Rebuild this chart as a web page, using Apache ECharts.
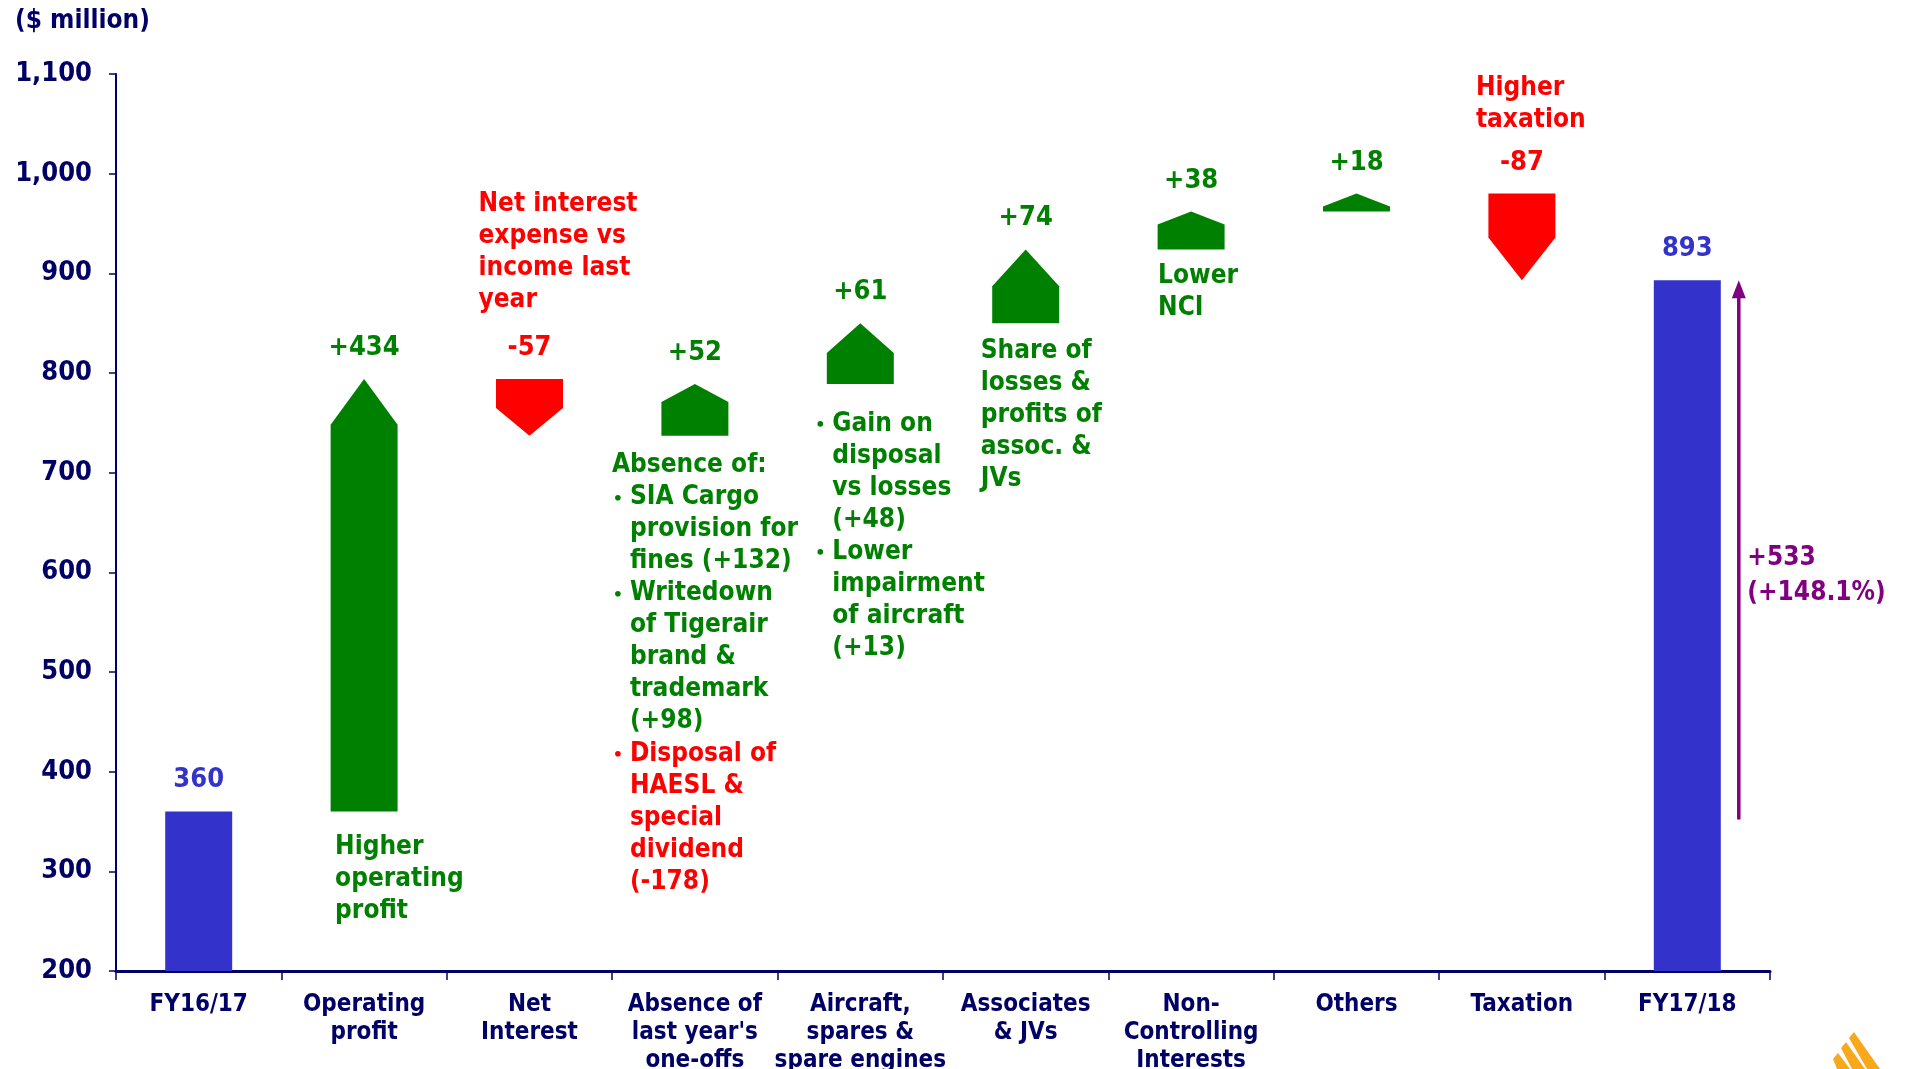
<!DOCTYPE html>
<html>
<head>
<meta charset="utf-8">
<script src="https://cdn.jsdelivr.net/npm/echarts@6/dist/echarts.min.js"></script>
<style>
  html, body { margin: 0; padding: 0; background: #fff; }
  #chart { width: 1911px; height: 1069px; }
</style>
</head>
<body>
<div id="chart"></div>
<script>
// categories along the x axis
const categories = [
  'FY16/17', 'Operating\nprofit', 'Net\nInterest', "Absence of\nlast year's\none-offs",
  'Aircraft,\nspares &\nspare engines', 'Associates\n& JVs', 'Non-\nControlling\nInterests',
  'Others', 'Taxation', 'FY17/18'
]
// opening / closing net profit ($ million)
const startValue = 360
const endValue = 893
// bridge steps, categories 1..8
const changes = [434, -57, 52, 61, 74, 38, 18, -87]
const valueLabels = ['360', '+434', '-57', '+52', '+61', '+74', '+38', '+18', '-87', '893']
const yTicks = [200, 300, 400, 500, 600, 700, 800, 900, 1000, 1100]

// annotation texts
const noteOperating = ['Higher', 'operating', 'profit']
const noteInterest = ['Net interest', 'expense vs', 'income last', 'year']
const noteOneOffs = ['Absence of:', '• SIA Cargo', '  provision for', '  fines (+132)', '• Writedown',
  '  of Tigerair', '  brand &', '  trademark', '  (+98)']
const noteHaesl = ['• Disposal of', '  HAESL &', '  special', '  dividend', '  (-178)']
const noteAircraft = ['• Gain on', '  disposal', '  vs losses', '  (+48)', '• Lower', '  impairment',
  '  of aircraft', '  (+13)']
const noteAssoc = ['Share of', 'losses &', 'profits of', 'assoc. &', 'JVs']
const noteNci = ['Lower', 'NCI']
const noteTax = ['Higher', 'taxation']
const noteGrowth = ['+533', '(+148.1%)']

// styles
const FONT = "'DejaVu Sans Condensed', 'DejaVu Sans', sans-serif"
const NAVY = '#000066'
const BLUE = '#3333CC'
const GREEN = '#008000'
const RED = '#FF0000'
const PURPLE = '#800080'
// arrow head length (in axis units) per bridge step, as drawn
const arrowHead = [46, 28, 18, 30, 37, 13, 13, 43]

// build waterfall steps from the data
let running = startValue
const steps = changes.map((d, i) => {
  const from = running
  running += d
  return [i + 1, from, running]
})
const totals = categories.map((c, i) => (i === 0 ? startValue : i === categories.length - 1 ? endValue : '-'))

// annotation layout: category anchor, pixel offset of left edge, top (axis units)
const notes = [
  { lines: noteOperating, cat: 1, dx: -29, top: 340, color: GREEN },
  { lines: noteInterest, cat: 2, dx: -51, top: 985, color: RED },
  { lines: noteOneOffs, cat: 3, dx: -83, top: 723, color: GREEN },
  { lines: noteHaesl, cat: 3, dx: -83, top: 434, color: RED },
  { lines: noteAircraft, cat: 4, dx: -46, top: 765, color: GREEN },
  { lines: noteAssoc, cat: 5, dx: -45, top: 838, color: GREEN },
  { lines: noteNci, cat: 6, dx: -33, top: 913, color: GREEN },
  { lines: noteTax, cat: 8, dx: -46, top: 1102, color: RED },
  { lines: noteGrowth, cat: 9, dx: 60, top: 632, color: PURPLE, lh: 35 }
]

const chart = echarts.init(document.getElementById('chart'))

const txt = (x, y, s, color, align, size) => ({
  type: 'text',
  style: {
    x, y, text: s, fill: color, font: 'bold ' + (size || 26) + 'px ' + FONT,
    align: align || 'left', verticalAlign: 'middle'
  }
})

const option = {
  animation: false,
  backgroundColor: '#ffffff',
  grid: { left: 116, right: 141, top: 74, bottom: 98, containLabel: false, outerBoundsMode: 'none' },
  graphic: [
    {
      type: 'text', left: 15, top: 8,
      style: { text: '($ million)', fill: NAVY, font: 'bold 26px ' + FONT }
    },
    // airline logo fragment, bottom right
    {
      type: 'group', left: 1833, top: 1032,
      children: [
        { type: 'polygon', shape: { points: [[17, 6], [22, 0], [48, 37], [35, 37]] }, style: { fill: '#F9A81C' } },
        { type: 'polygon', shape: { points: [[9, 16], [14, 10], [33, 37], [20, 37]] }, style: { fill: '#F9A81C' } },
        { type: 'polygon', shape: { points: [[1, 27], [6, 21], [18, 37], [5, 37]] }, style: { fill: '#F9A81C' } }
      ]
    }
  ],
  xAxis: {
    type: 'category',
    data: categories,
    boundaryGap: true,
    axisLine: { lineStyle: { color: NAVY, width: 3 } },
    axisTick: { show: true, length: 9, lineStyle: { color: NAVY, width: 1.5 } },
    axisLabel: {
      interval: 0, margin: 20, color: NAVY, fontFamily: FONT, fontWeight: 'bold',
      fontSize: 24, lineHeight: 28
    }
  },
  yAxis: {
    type: 'value',
    min: yTicks[0],
    max: yTicks[yTicks.length - 1],
    interval: 100,
    splitLine: { show: false },
    axisLine: { show: true, lineStyle: { color: NAVY, width: 2 } },
    axisTick: { show: true, length: 7, lineStyle: { color: NAVY, width: 1.5 } },
    axisLabel: {
      margin: 24, color: NAVY, fontFamily: FONT, fontWeight: 'bold', fontSize: 27,
      formatter: v => v.toLocaleString('en-US')
    }
  },
  series: [
    {
      name: 'totals',
      type: 'bar',
      data: totals,
      barWidth: '40.5%',
      itemStyle: { color: BLUE },
      label: {
        show: true, position: 'top', distance: 18, color: BLUE,
        fontFamily: FONT, fontWeight: 'bold', fontSize: 27,
        formatter: p => valueLabels[p.dataIndex]
      }
    },
    {
      name: 'steps',
      type: 'custom',
      data: steps,
      clip: false,
      renderItem: (params, api) => {
        const cat = api.value(0)
        const from = api.value(1)
        const to = api.value(2)
        const up = to > from
        const head = arrowHead[params.dataIndex]
        const w = api.size([1, 0])[0] * 0.405
        const [cx, yFrom] = api.coord([cat, from])
        const yTo = api.coord([cat, to])[1]
        const yShoulder = api.coord([cat, up ? to - head : to + head])[1]
        const color = up ? GREEN : RED
        const yTop = Math.min(yFrom, yTo)
        return {
          type: 'group',
          children: [
            {
              type: 'polygon',
              shape: { points: [[cx - w / 2, yFrom], [cx + w / 2, yFrom], [cx + w / 2, yShoulder], [cx, yTo], [cx - w / 2, yShoulder]] },
              style: { fill: color }
            },
            txt(cx, yTop - 31, valueLabels[cat], color, 'center', 27)
          ]
        }
      }
    },
    {
      name: 'growth',
      type: 'custom',
      data: [[categories.length - 1, startValue, endValue]],
      clip: false,
      renderItem: (params, api) => {
        const w = api.size([1, 0])[0] * 0.405
        const [cx, yLow] = api.coord([api.value(0), api.value(1)])
        const yHigh = api.coord([api.value(0), api.value(2)])[1]
        const x = cx + w / 2 + 18
        return {
          type: 'group',
          children: [
            { type: 'line', shape: { x1: x, y1: yLow + 8, x2: x, y2: yHigh + 14 }, style: { stroke: PURPLE, lineWidth: 3.5 } },
            { type: 'polygon', shape: { points: [[x - 7, yHigh + 18], [x + 7, yHigh + 18], [x, yHigh]] }, style: { fill: PURPLE } }
          ]
        }
      }
    },
    {
      name: 'notes',
      type: 'custom',
      data: notes.map(n => [n.cat, n.top]),
      clip: false,
      renderItem: (params, api) => {
        const n = notes[params.dataIndex]
        const [cx, y0] = api.coord([api.value(0), api.value(1)])
        const x0 = cx + n.dx
        const lh = n.lh || 32
        const children = []
        n.lines.forEach((line, i) => {
          const y = y0 + lh * i + lh / 2
          if (line.startsWith('• ')) {
            children.push({
              type: 'circle', shape: { cx: x0 + 6, cy: y, r: 2.8 }, style: { fill: n.color }
            })
            children.push(txt(x0 + 18, y, line.slice(2), n.color))
          } else if (line.startsWith('  ')) {
            children.push(txt(x0 + 18, y, line.slice(2), n.color))
          } else {
            children.push(txt(x0, y, line, n.color))
          }
        })
        return { type: 'group', children }
      }
    }
  ]
}

chart.setOption(option)
</script>
</body>
</html>
